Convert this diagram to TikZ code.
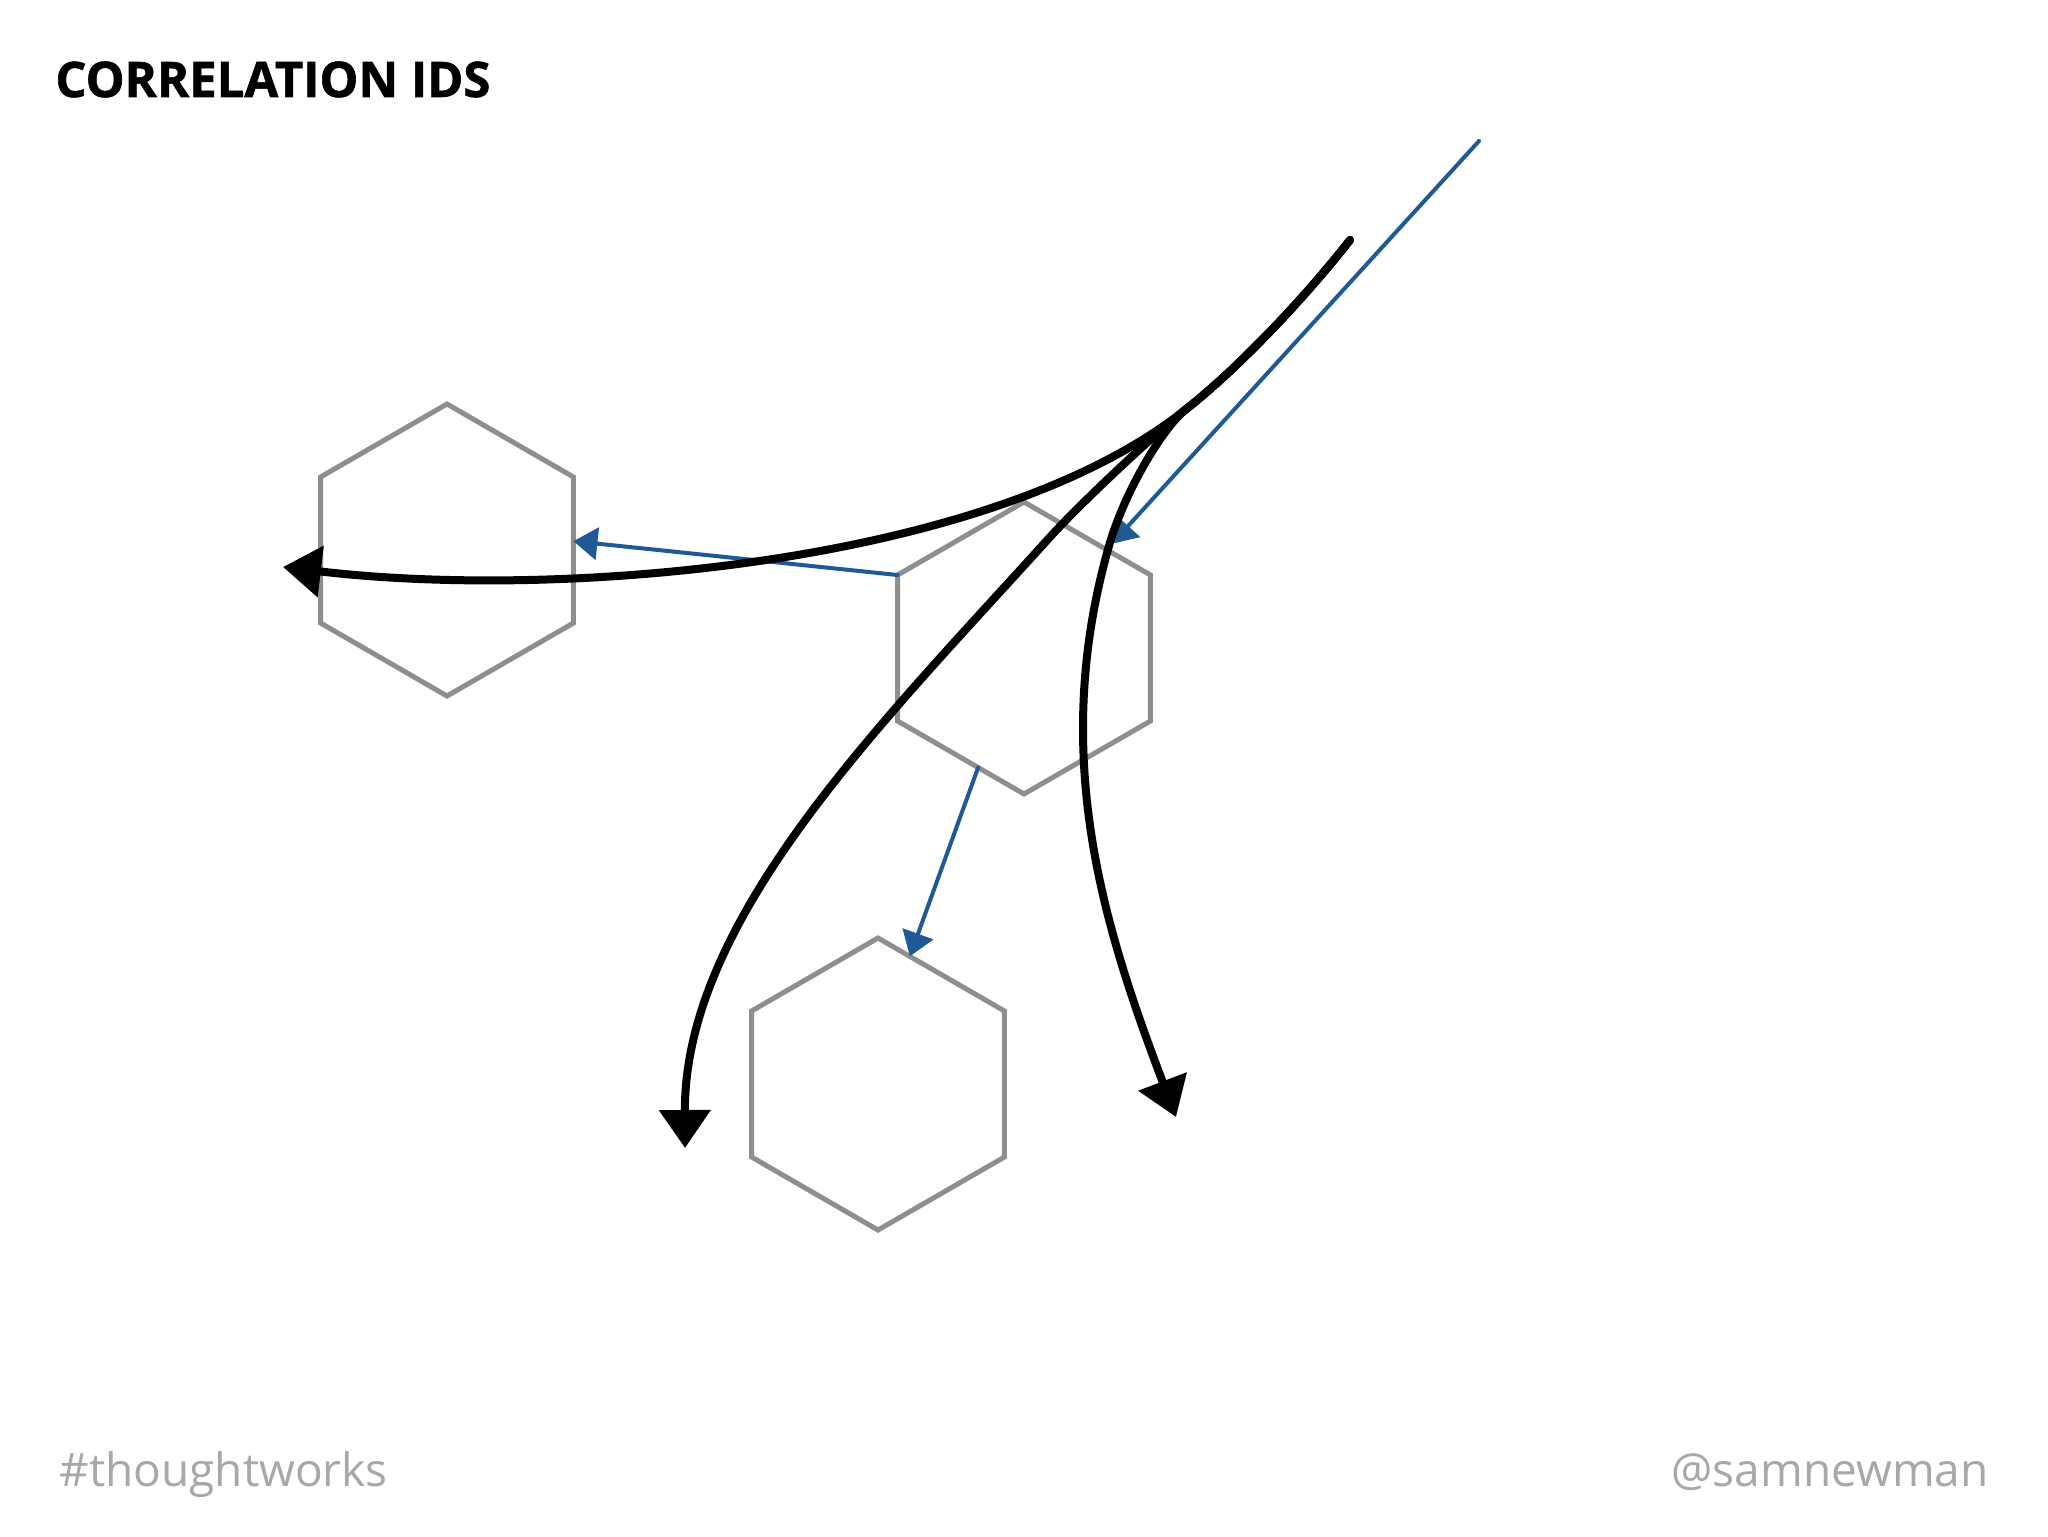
\documentclass[tikz,border=0pt]{standalone}
\usepackage{fontspec}
\setmainfont{Open Sans}
\newfontfamily\titlefont{Open Sans}[BoldFeatures={FakeBold=1.2}]
\usetikzlibrary{arrows.meta,shapes.geometric}
\definecolor{hexgray}{HTML}{8E8E8E}
\definecolor{arrowblue}{HTML}{1F5A96}
\definecolor{footgray}{HTML}{A8A8A8}
\begin{document}
\begin{tikzpicture}[x=0.5pt,y=-0.5pt,
  hexnode/.style={draw=hexgray, line width=2.5pt, regular polygon, regular polygon sides=6,
    shape border rotate=30, minimum size=146pt, inner sep=0pt, outer sep=0pt},
  flow/.style={draw=black, line width=4pt, line cap=round, line join=round,
    -{Triangle[length=19pt,width=25pt]}},
  call/.style={draw=arrowblue, line width=2pt, line cap=round,
    -{Triangle[length=12pt,width=16pt]}},
  foot/.style={text=footgray, inner sep=0pt, font=\fontsize{23pt}{28pt}\selectfont}]
\fill[white] (0,0) rectangle (2048,1536);
\useasboundingbox (0,0) rectangle (2048,1536);

\node[anchor=base west, inner sep=0pt, font=\titlefont\bfseries\fontsize{24.5pt}{29pt}\selectfont] (title) at (55,97) {CORRELATION IDS};

\node[hexnode] (h1) at (447,550) {};
\node[hexnode] (h2) at (1024,648) {};
\node[hexnode] (h3) at (878,1084) {};

\coordinate (bsrc) at (1479,141);
\coordinate (src) at (1350,240);
\coordinate (br) at (1185,410);
\coordinate (k2mid) at (1050,537);
\coordinate (k3mid) at (1107,553);
\coordinate (k1end) at (283,567);
\coordinate (k2end) at (685,1148);
\coordinate (k3end) at (1176,1117);

\draw[call, shorten >=4pt] (bsrc) -- (h2.50);
\draw[call] (h2.150) -- (h1.4);
\draw[call] (h2.249) -- (h3.76);

\draw[flow] (src) .. controls (1307,295) and (1240,367) .. (br)
  .. controls (990,565) and (560,600) .. (k1end);
\draw[flow] (src) .. controls (1307,295) and (1240,367) .. (br)
  .. controls (1150,438) and (1080,504) .. (k2mid)
  .. controls (883,722) and (684,918) .. (k2end);
\draw[flow] (src) .. controls (1307,295) and (1240,367) .. (br)
  .. controls (1162,429) and (1122,495) .. (k3mid)
  .. controls (1050,760) and (1105,930) .. (k3end);

\node[foot, anchor=base west] (tag) at (59,1486) {\#thoughtworks};
\node[foot, anchor=base east] (handle) at (1989,1486) {@samnewman};
\end{tikzpicture}
\end{document}
